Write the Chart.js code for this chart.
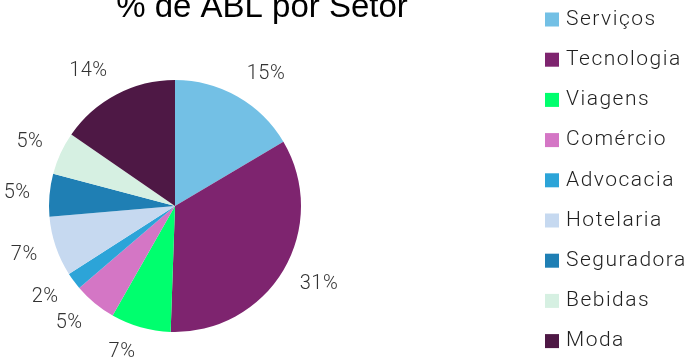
<!DOCTYPE html>
<html>
<head>
<meta charset="utf-8">
<script src="https://cdn.jsdelivr.net/npm/chart.js@4.4.1/dist/chart.umd.min.js"></script>
<style>
  html, body { margin: 0; padding: 0; background: #fff; overflow: hidden; }
  .wrap { width: 696px; height: 362px; }
</style>
</head>
<body>
<div class="wrap"><canvas id="pie"></canvas></div>
<script>
const ctx = document.getElementById('pie');

const sectors = ['Serviços', 'Tecnologia', 'Viagens', 'Comércio', 'Advocacia', 'Hotelaria', 'Seguradora', 'Bebidas', 'Moda'];
const shares = [15, 31, 7, 5, 2, 7, 5, 5, 14];
const colors = ['#73c0e5', '#7e246f', '#00ff6e', '#d476c5', '#2ca4d8', '#c6d9f0', '#1f7fb4', '#d6f0e2', '#4e1845'];
const chartTitle = '% de ABL por Setor';

// title (cropped at top like the original), percent labels and legend
const decorations = {
    id: 'decorations',
    afterDraw(chart) {
        const c = chart.ctx;
        c.save();
        c.fillStyle = '#000';
        c.font = '33px "Liberation Sans", Arial, sans-serif';
        c.textAlign = 'center';
        c.textBaseline = 'alphabetic';
        c.fillText(chartTitle, 262, 17);

        // labels sit outside the slice, pushed out by half their size
        const meta = chart.getDatasetMeta(0);
        c.fillStyle = '#333';
        c.font = '300 20px Roboto, sans-serif';
        c.letterSpacing = '0.5px';
        c.textBaseline = 'middle';
        meta.data.forEach((arc, i) => {
            const mid = (arc.startAngle + arc.endAngle) / 2;
            const dx = Math.cos(mid), dy = Math.sin(mid);
            const r = arc.outerRadius + 19;
            const txt = shares[i] + '%';
            const w = c.measureText(txt).width;
            const x = arc.x + dx * r + Math.sign(dx) * w / 2;
            const y = arc.y + dy * r + dy * 7;
            c.fillText(txt, x, y);
        });

        // legend
        c.textAlign = 'left';
        c.font = '300 21px Roboto, sans-serif';
        c.letterSpacing = '1.5px';
        sectors.forEach((name, i) => {
            const y = 19.5 + i * 40.2;
            c.fillStyle = colors[i];
            c.fillRect(545, y - 7, 14, 14);
            c.fillStyle = '#1f1f1f';
            c.fillText(name, 566, y);
        });
        c.restore();
    }
};

new Chart(ctx, {
    type: 'pie',
    data: {
        labels: sectors,
        datasets: [{
            data: shares,
            backgroundColor: colors,
            borderWidth: 0
        }]
    },
    options: {
        responsive: true,
        maintainAspectRatio: false,
        animation: false,
        layout: {
            padding: { top: 80, bottom: 30, left: 49, right: 395 }
        },
        plugins: {
            legend: { display: false },
            tooltip: { enabled: false }
        }
    },
    plugins: [decorations]
});
</script>
</body>
</html>
